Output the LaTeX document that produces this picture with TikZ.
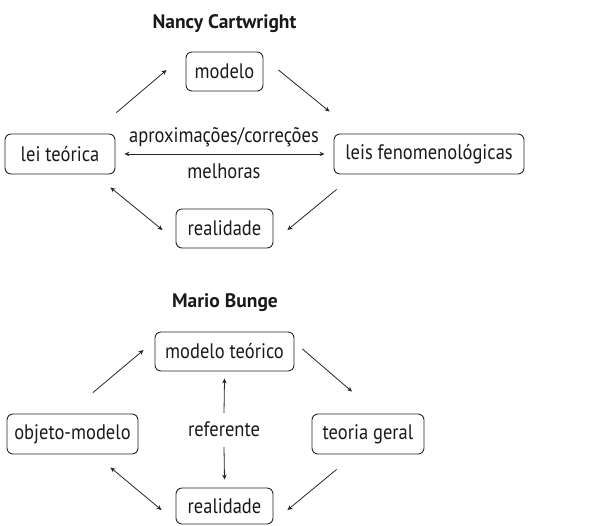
\documentclass[tikz,border=0pt]{standalone}
\usepackage{fontspec}
\setmainfont{PT Sans}
\newfontfamily\narrowfont[FakeStretch=0.88]{PT Sans}
\usetikzlibrary{arrows.meta,calc}
\tikzset{
  box/.style={draw=black!85, line width=0.9pt, rounded corners=6pt, minimum height=39pt, inner sep=0pt, font=\narrowfont\fontsize{21}{24}\selectfont, text=black!90},
  lbl/.style={inner sep=0pt, font=\narrowfont\fontsize{21}{24}\selectfont, text=black!90},
  ttl/.style={inner sep=0pt, font=\fontsize{19.5}{22}\selectfont\bfseries, text=black!90},
  arr/.style={line width=0.8pt, draw=black!85, -{Stealth[length=5pt,width=4.5pt]}},
  darr/.style={line width=0.8pt, draw=black!85, {Stealth[length=5pt,width=4.5pt]}-{Stealth[length=5pt,width=4.5pt]}}
}
\begin{document}
\begin{tikzpicture}[x=1pt,y=-1pt]
\useasboundingbox (0,0) rectangle (609,525);
% ---------- Nancy Cartwright ----------
\node[ttl] (t1) at (224.5,24) {Nancy Cartwright};
\node[box, minimum width=77pt] (m1) at (224.5,71.5) {modelo};
\node[box, minimum width=110pt, minimum height=40pt] (lt) at (60,154) {lei teórica};
\node[box, minimum width=190pt, minimum height=40pt] (lf) at (429,154) {leis fenomenológicas};
\node[box, minimum width=97pt] (r1) at (224.5,228.5) {realidade};
\node[lbl] (ap) at (224,137) {aproximações/correções};
\node[lbl] (me) at (224,171) {melhoras};
\draw[darr] ($(lt.east)+(9,0)$) -- ($(lf.west)+(-9,0)$);
\draw[arr] ($(lt.north east)+(1,-21)$) -- ($(m1.west)+(-19,-1.5)$);
\draw[arr] ($(m1.east)+(15,-1.5)$) -- ($(lf.north west)+(-4,-22)$);
\draw[arr] ($(lf.south west)+(3,15)$) -- ($(r1.east)+(14,1.5)$);
\draw[darr] ($(lt.south east)+(-5,13)$) -- ($(r1.west)+(-13,1.5)$);
% ---------- Mario Bunge ----------
\node[ttl] (t2) at (225,303) {Mario Bunge};
\node[box, minimum width=139pt] (m2) at (224.5,351.5) {modelo teórico};
\node[box, minimum width=131pt, minimum height=40pt] (om) at (72.5,434) {objeto-modelo};
\node[box, minimum width=112pt, minimum height=40pt] (tg) at (368,434) {teoria geral};
\node[box, minimum width=97pt, minimum height=36pt] (r2) at (224.5,506) {realidade};
\node[lbl] (rf) at (224,429) {referente};
\draw[arr] ($(rf)+(0,-16)$) -- ($(m2.south)+(0,7)$);
\draw[arr] ($(rf)+(0,18)$) -- ($(r2.north)+(0,-8)$);
\draw[arr] ($(om.north)+(20.5,-21)$) -- ($(m2.west)+(-11,-1.5)$);
\draw[arr] ($(m2.east)+(8,-2.5)$) -- ($(tg.north)+(-16,-22)$);
\draw[arr] ($(tg.south west)+(25,15)$) -- ($(r2.east)+(14,4)$);
\draw[darr] ($(om.south east)+(-28,13)$) -- ($(r2.west)+(-14,4)$);
\end{tikzpicture}
\end{document}
